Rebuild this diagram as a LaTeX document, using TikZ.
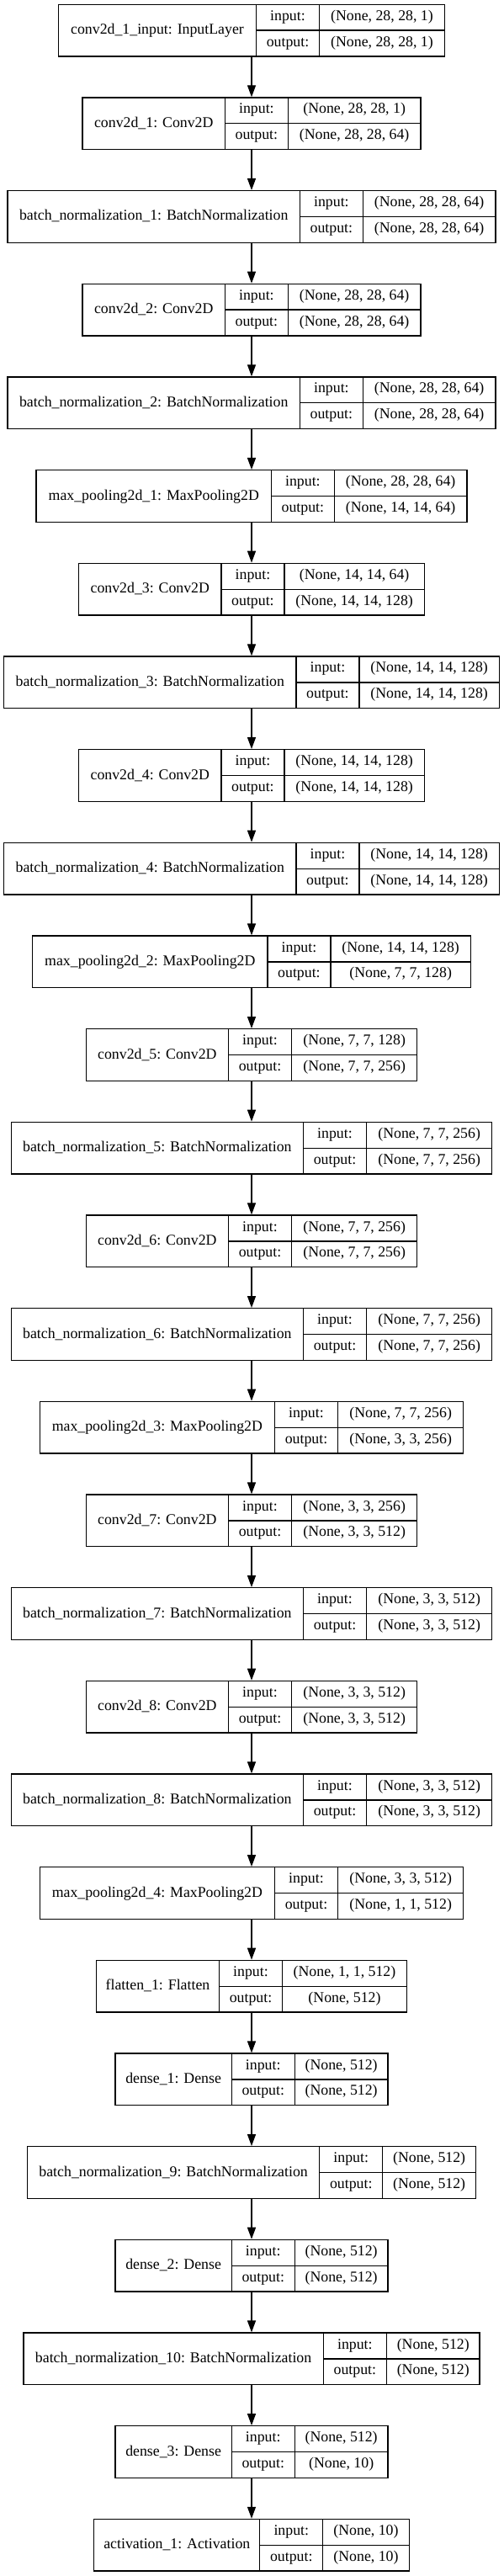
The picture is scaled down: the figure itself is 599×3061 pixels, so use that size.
\documentclass[tikz,border=0pt]{standalone}
\usepackage{fontspec}
\setmainfont{Liberation Serif}
\usetikzlibrary{arrows.meta}
\tikzset{
  layerbox/.style={draw, line width=1.33pt, inner sep=0pt, fill=white},
  cellline/.style={line width=1.33pt},
  txt/.style={inner sep=0pt, anchor=base, font=\fontsize{17.8}{20}\selectfont},
  conn/.style={line width=1.33pt, -{Triangle[length=14pt,width=10pt]}},
}
\newcommand\kerasLayer[6]{%
  \pgfmathsetmacro\tw{#3+75+#4}%
  \pgfmathsetmacro\lx{299-\tw/2}%
  \pgfmathsetmacro\da{\lx+#3}%
  \pgfmathsetmacro\db{\da+75}%
  \pgfmathsetmacro\rx{\lx+\tw}%
  \pgfmathsetmacro\ty{-(5.3+110.67*#1)}%
  \pgfmathsetmacro\my{\ty-30.85}%
  \node[layerbox, minimum width=\tw pt, minimum height=61.7pt] (L#1) at (299,\my) {};
  \draw[cellline] (\da,\ty) -- (\da,\ty-61.7);
  \draw[cellline] (\db,\ty) -- (\db,\ty-61.7);
  \draw[cellline] (\da,\my) -- (\rx,\my);
  \node[txt] (L#1n) at ({(\lx+\da)/2},{\my-4.5}) {#2};
  \node[txt] (L#1i) at ({(\da+\db)/2},{\ty-19}) {input:};
  \node[txt] (L#1o) at ({(\da+\db)/2},{\ty-49.8}) {output:};
  \node[txt] (L#1a) at ({(\db+\rx)/2},{\ty-19}) {#5};
  \node[txt] (L#1b) at ({(\db+\rx)/2},{\ty-49.8}) {#6};
}
\begin{document}
\begin{tikzpicture}[x=1pt,y=1pt]
\useasboundingbox (0,0) rectangle (599,-3061);
\fill[white] (0,0) rectangle (599,-3061);
\kerasLayer{0}{conv2d\_1\_input: InputLayer}{235}{149}{(None, 28, 28, 1)}{(None, 28, 28, 1)}
\kerasLayer{1}{conv2d\_1: Conv2D}{169.3}{157.5}{(None, 28, 28, 1)}{(None, 28, 28, 64)}
\kerasLayer{2}{batch\_normalization\_1: BatchNormalization}{347.3}{157.5}{(None, 28, 28, 64)}{(None, 28, 28, 64)}
\kerasLayer{3}{conv2d\_2: Conv2D}{169.3}{157.5}{(None, 28, 28, 64)}{(None, 28, 28, 64)}
\kerasLayer{4}{batch\_normalization\_2: BatchNormalization}{347.3}{157.5}{(None, 28, 28, 64)}{(None, 28, 28, 64)}
\kerasLayer{5}{max\_pooling2d\_1: MaxPooling2D}{279.3}{157.5}{(None, 28, 28, 64)}{(None, 14, 14, 64)}
\kerasLayer{6}{conv2d\_3: Conv2D}{169.3}{166.4}{(None, 14, 14, 64)}{(None, 14, 14, 128)}
\kerasLayer{7}{batch\_normalization\_3: BatchNormalization}{347.3}{166.4}{(None, 14, 14, 128)}{(None, 14, 14, 128)}
\kerasLayer{8}{conv2d\_4: Conv2D}{169.3}{166.4}{(None, 14, 14, 128)}{(None, 14, 14, 128)}
\kerasLayer{9}{batch\_normalization\_4: BatchNormalization}{347.3}{166.4}{(None, 14, 14, 128)}{(None, 14, 14, 128)}
\kerasLayer{10}{max\_pooling2d\_2: MaxPooling2D}{279.3}{166.4}{(None, 14, 14, 128)}{(None, 7, 7, 128)}
\kerasLayer{11}{conv2d\_5: Conv2D}{169.3}{149.3}{(None, 7, 7, 128)}{(None, 7, 7, 256)}
\kerasLayer{12}{batch\_normalization\_5: BatchNormalization}{347.3}{149.3}{(None, 7, 7, 256)}{(None, 7, 7, 256)}
\kerasLayer{13}{conv2d\_6: Conv2D}{169.3}{149.3}{(None, 7, 7, 256)}{(None, 7, 7, 256)}
\kerasLayer{14}{batch\_normalization\_6: BatchNormalization}{347.3}{149.3}{(None, 7, 7, 256)}{(None, 7, 7, 256)}
\kerasLayer{15}{max\_pooling2d\_3: MaxPooling2D}{279.3}{149.3}{(None, 7, 7, 256)}{(None, 3, 3, 256)}
\kerasLayer{16}{conv2d\_7: Conv2D}{169.3}{149.3}{(None, 3, 3, 256)}{(None, 3, 3, 512)}
\kerasLayer{17}{batch\_normalization\_7: BatchNormalization}{347.3}{149.3}{(None, 3, 3, 512)}{(None, 3, 3, 512)}
\kerasLayer{18}{conv2d\_8: Conv2D}{169.3}{149.3}{(None, 3, 3, 512)}{(None, 3, 3, 512)}
\kerasLayer{19}{batch\_normalization\_8: BatchNormalization}{347.3}{149.3}{(None, 3, 3, 512)}{(None, 3, 3, 512)}
\kerasLayer{20}{max\_pooling2d\_4: MaxPooling2D}{279.3}{149.3}{(None, 3, 3, 512)}{(None, 1, 1, 512)}
\kerasLayer{21}{flatten\_1: Flatten}{146}{148}{(None, 1, 1, 512)}{(None, 512)}
\kerasLayer{22}{dense\_1: Dense}{138.3}{110.8}{(None, 512)}{(None, 512)}
\kerasLayer{23}{batch\_normalization\_9: BatchNormalization}{347.3}{110.8}{(None, 512)}{(None, 512)}
\kerasLayer{24}{dense\_2: Dense}{138.3}{110.8}{(None, 512)}{(None, 512)}
\kerasLayer{25}{batch\_normalization\_10: BatchNormalization}{356.5}{110.8}{(None, 512)}{(None, 512)}
\kerasLayer{26}{dense\_3: Dense}{138.3}{110.8}{(None, 512)}{(None, 10)}
\kerasLayer{27}{activation\_1: Activation}{197}{102.4}{(None, 10)}{(None, 10)}
\foreach \i [evaluate=\i as \j using int(\i+1)] in {0,...,26}
  \draw[conn] (L\i.south) -- (L\j.north);
\end{tikzpicture}
\end{document}
